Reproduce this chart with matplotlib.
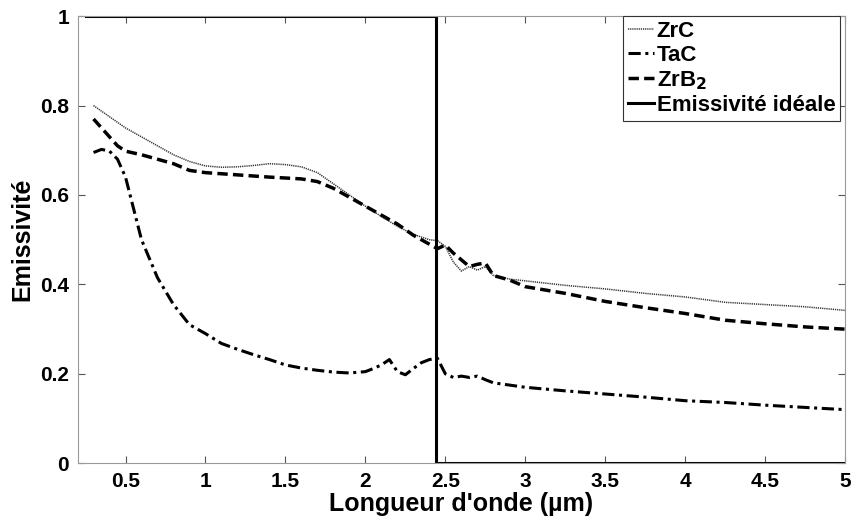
import matplotlib
matplotlib.use("Agg")
import matplotlib.pyplot as plt
import numpy as np

plt.rcParams['font.family'] = ['Liberation Sans', 'DejaVu Sans']
plt.rcParams['font.weight'] = 'bold'

# ZrC (pointillé)
x_zrc = [0.30, 0.40, 0.50, 0.60, 0.70, 0.80, 0.90, 1.00, 1.10, 1.20, 1.30, 1.40, 1.50, 1.60, 1.70,
         1.80, 1.90, 2.00, 2.10, 2.20, 2.30, 2.40, 2.45, 2.50, 2.55, 2.60, 2.65, 2.70, 2.75, 2.80,
         2.90, 3.00, 3.25, 3.50, 3.75, 4.00, 4.25, 4.50, 4.75, 5.00]
y_zrc = [0.800, 0.775, 0.750, 0.730, 0.710, 0.690, 0.675, 0.665, 0.662, 0.663, 0.666, 0.670, 0.668, 0.663, 0.650,
         0.625, 0.600, 0.575, 0.552, 0.530, 0.512, 0.500, 0.498, 0.485, 0.450, 0.430, 0.440, 0.432, 0.440, 0.420,
         0.412, 0.408, 0.398, 0.390, 0.380, 0.372, 0.360, 0.355, 0.350, 0.342]

# TaC (tiret-point)
x_tac = [0.30, 0.35, 0.40, 0.45, 0.50, 0.55, 0.60, 0.70, 0.80, 0.90, 1.00, 1.10, 1.20, 1.30, 1.40,
         1.50, 1.60, 1.70, 1.80, 1.90, 2.00, 2.05, 2.10, 2.15, 2.20, 2.25, 2.30, 2.35, 2.40, 2.45,
         2.50, 2.55, 2.60, 2.65, 2.70, 2.75, 2.80, 2.90, 3.00, 3.25, 3.50, 3.75, 4.00, 4.25, 4.50,
         4.75, 5.00]
y_tac = [0.695, 0.702, 0.698, 0.680, 0.640, 0.570, 0.500, 0.415, 0.355, 0.310, 0.290, 0.268, 0.255, 0.243, 0.232,
         0.220, 0.213, 0.208, 0.204, 0.202, 0.205, 0.212, 0.220, 0.232, 0.205, 0.198, 0.212, 0.225, 0.232, 0.235,
         0.200, 0.192, 0.195, 0.192, 0.195, 0.187, 0.180, 0.175, 0.170, 0.162, 0.155, 0.148, 0.140, 0.136, 0.130,
         0.125, 0.120]

# ZrB2 (tirets)
x_zrb2 = [0.30, 0.35, 0.40, 0.45, 0.50, 0.60, 0.70, 0.80, 0.90, 1.00, 1.20, 1.40, 1.60, 1.70, 1.80,
          1.90, 2.00, 2.10, 2.20, 2.30, 2.40, 2.45, 2.50, 2.55, 2.60, 2.65, 2.70, 2.75, 2.80, 2.90,
          3.00, 3.25, 3.50, 3.75, 4.00, 4.25, 4.50, 4.75, 5.00]
y_zrb2 = [0.770, 0.750, 0.730, 0.710, 0.698, 0.690, 0.680, 0.670, 0.655, 0.650, 0.645, 0.640, 0.636, 0.630, 0.615,
          0.595, 0.575, 0.555, 0.535, 0.510, 0.490, 0.480, 0.488, 0.470, 0.455, 0.440, 0.445, 0.448, 0.420, 0.410,
          0.395, 0.380, 0.362, 0.348, 0.335, 0.320, 0.312, 0.305, 0.300]

# Emissivité idéale (corps noir jusqu'à la coupure)
x_ideal = [0.25, 2.44, 2.44, 5.00]
y_ideal = [1.0, 1.0, 0.0, 0.0]

fig = plt.figure(figsize=(8.52, 5.20), dpi=100)
ax = fig.add_axes([0.091, 0.109, 0.901, 0.860])

ax.plot(x_zrc, y_zrc, color='#333333', linestyle=(0, (0.8, 0.6)), linewidth=1.1, label='ZrC')
ax.plot(x_tac, y_tac, color='black', linestyle=(0, (4, 1.5, 1, 1.5)), linewidth=2.2, label='TaC')
ax.plot(x_zrb2, y_zrb2, color='black', linestyle=(0, (3, 1.5)), linewidth=2.5, label='ZrB$_\\mathbf{2}$')
ax.plot(x_ideal, y_ideal, color='black', linestyle='-', linewidth=2.2, label='Emissivité idéale')

ax.set_xlim(0.2, 5)
ax.set_ylim(0, 1)
ax.set_xticks([0.5, 1, 1.5, 2, 2.5, 3, 3.5, 4, 4.5, 5])
ax.set_xticklabels(['0.5', '1', '1.5', '2', '2.5', '3', '3.5', '4', '4.5', '5'])
ax.set_yticks([0, 0.2, 0.4, 0.6, 0.8, 1])
ax.set_yticklabels(['0', '0.2', '0.4', '0.6', '0.8', '1'])
ax.tick_params(direction='in', top=True, right=True, labelsize=15, length=5, color='#555555', pad=6)
for s in ax.spines.values():
    s.set_color('#999999')
    s.set_linewidth(0.8)

ax.set_xlabel("Longueur d'onde (µm)", fontsize=18, fontweight='bold', labelpad=1)
ax.set_ylabel("Emissivité", fontsize=18, fontweight='bold', labelpad=4)

leg = ax.legend(loc='upper right', bbox_to_anchor=(0.993, 1.0), fontsize=16, handlelength=1.2,
                handletextpad=0.1, borderaxespad=0.0, borderpad=0.2, labelspacing=0.15,
                fancybox=False, framealpha=1, edgecolor='#333333')
leg.get_frame().set_linewidth(0.8)
for t in leg.get_texts():
    t.set_fontweight('bold')

fig.savefig('out.png', dpi=100)
